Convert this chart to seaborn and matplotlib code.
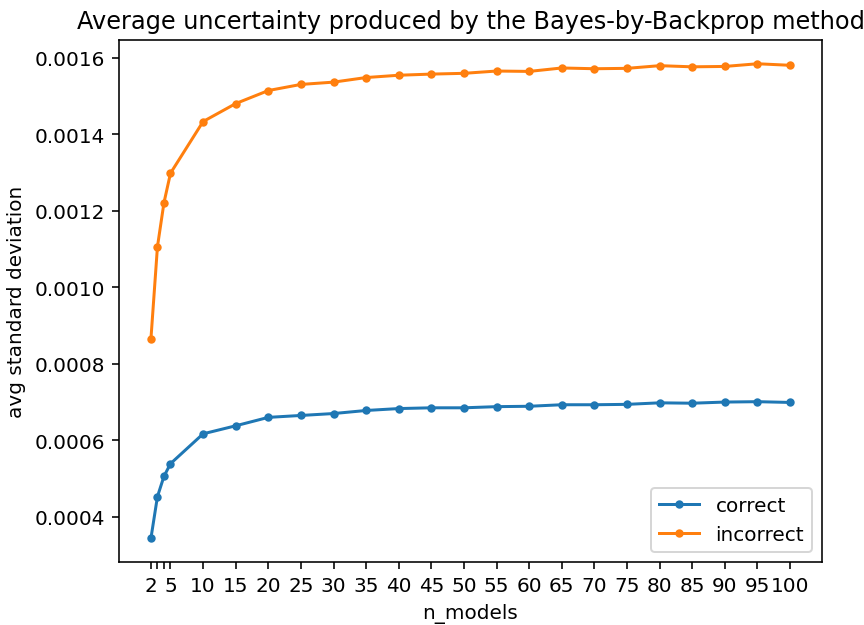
import matplotlib
matplotlib.use("Agg")
import matplotlib.pyplot as plt
import seaborn as sns
import pandas as pd

# number of ensemble models sampled
n_models = [2, 3, 4, 5, 10, 15, 20, 25, 30, 35, 40, 45, 50, 55, 60, 65, 70, 75, 80, 85, 90, 95, 100]

# average predictive standard deviation for correctly / incorrectly classified samples
correct_std = [0.000344, 0.000453, 0.000506, 0.000539, 0.000617, 0.000638, 0.000660, 0.000665,
               0.000670, 0.000678, 0.000683, 0.000685, 0.000685, 0.000688, 0.000689, 0.000693,
               0.000693, 0.000694, 0.000698, 0.000697, 0.000700, 0.000701, 0.000699]
incorrect_std = [0.000865, 0.001106, 0.001221, 0.001298, 0.001433, 0.001480, 0.001514, 0.001530,
                 0.001536, 0.001548, 0.001554, 0.001557, 0.001559, 0.001565, 0.001564, 0.001573,
                 0.001571, 0.001572, 0.001579, 0.001576, 0.001577, 0.001584, 0.001580]

tick_positions = [2, 3, 4, 5, 10, 15, 20, 25, 30, 35, 40, 45, 50, 55, 60, 65, 70, 75, 80, 85, 90, 95, 100]
tick_labels = ["2", "", "", "5", "10", "15", "20", "25", "30", "35", "40", "45", "50", "55",
               "60", "65", "70", "75", "80", "85", "90", "95", "100"]

df = pd.DataFrame({"n_models": n_models, "correct": correct_std, "incorrect": incorrect_std})

plt.rcParams["font.family"] = ["DejaVu Sans"]
fig = plt.figure(figsize=(6.0, 4.347), dpi=144)
ax = fig.add_axes([0.1377, 0.1006, 0.8137, 0.8339])

for col, color in [("correct", "#1f77b4"), ("incorrect", "#ff7f0e")]:
    sns.lineplot(data=df, x="n_models", y=col, ax=ax, color=color, label=col,
                 marker="o", markersize=4.2, markeredgecolor=color, markeredgewidth=0,
                 linewidth=1.5)

ax.set_xticks(tick_positions)
ax.set_xticklabels(tick_labels)
ax.set_xlabel("n_models")
ax.set_ylabel("avg standard deviation")
ax.set_title("Average uncertainty produced by the Bayes-by-Backprop method")
ax.legend(loc="lower right")

fig.savefig("out.png", dpi=144)
